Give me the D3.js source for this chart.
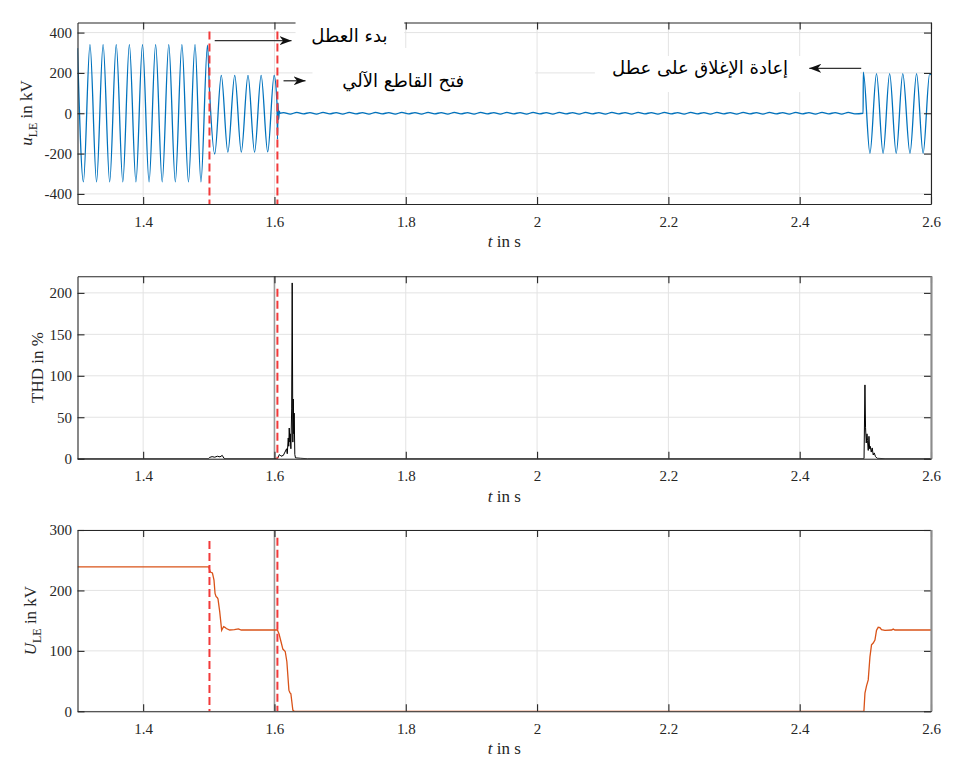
<!DOCTYPE html>
<html>
<head>
<meta charset="utf-8">
<script src="https://cdn.jsdelivr.net/npm/d3@7"></script>
<style>
  body { margin: 0; background: #fff; }
  text { font-family: "Liberation Serif", "Times New Roman", serif; fill: #262626; }
  .ar { font-family: "DejaVu Sans", sans-serif; fill: #000; }
</style>
</head>
<body>
<svg id="chart" width="961" height="762"></svg>
<script>
// ticks
const xTicks = [1.4, 1.6, 1.8, 2.0, 2.2, 2.4, 2.6];
const uTicks = [-400, -200, 0, 200, 400];
const thdTicks = [0, 50, 100, 150, 200];
const uleTicks = [0, 100, 200, 300];

// events (s)
const faultT = 1.501;
const breakerT = 1.6045;

// u_LE waveform, extrema (kV)
const uPreT = [1.300, 1.309, 1.319, 1.329, 1.339, 1.349, 1.359, 1.369, 1.379, 1.389,
  1.399, 1.409, 1.419, 1.429, 1.439, 1.449, 1.459, 1.469, 1.479, 1.488, 1.498,
  1.5012, 1.509, 1.519, 1.529, 1.5395, 1.5495, 1.5597, 1.5697, 1.5797, 1.5897, 1.5995,
  1.6038, 1.6046, 1.6055, 1.6064, 1.6074, 1.6085];
const uPreV = [323, -340, 340, -340, 340, -340, 340, -340, 340, -340,
  340, -340, 340, -340, 340, -340, 340, -340, 340, -340, 338,
  105, -202, 188, -193, 188, -193, 188, -193, 188, -192, 188,
  52, -130, 50, -30, 10, 0];
// residual ripple after breaker opening, one value every 10 ms from 1.614 s
const rippleStart = 1.614;
const rippleStep = 0.01;
const rippleV = [3, -4, 4, -3, 3, -4, 4, -3, 3, -4, 4, -3, 3, -4, 4, -3, 3, -4, 4, -3, 3, -4,
  4, -3, 3, -4, 4, -3, 3, -4, 4, -3, 3, -4, 4, -3, 3, -4, 4, -3, 3, -4, 4, -3,
  3, -4, 4, -3, 3, -4, 4, -3, 3, -4, 4, -3, 3, -4, 4, -3, 3, -4, 4, -3, 3, -4,
  4, -3, 3, -4, 4, -3, 3, -4, 4, -3, 3, -4, 4, -3, 3, -4, 4, -3, 3, -4, 4, -3];
const uReT = [2.4966, 2.4969, 2.507, 2.517, 2.527, 2.537, 2.547, 2.557, 2.568, 2.578, 2.588, 2.598, 2.6];
const uReV = [0, 204, -199, 196, -199, 196, -199, 196, -199, 196, -199, 196, 190];

// THD (%)
const thdT = [1.3, 1.4995, 1.501, 1.505, 1.509, 1.513, 1.517, 1.5205, 1.523, 1.526,
  1.6045, 1.6075, 1.61, 1.6135, 1.616, 1.6185, 1.6195, 1.621, 1.6218, 1.6225, 1.6235, 1.624,
  1.625, 1.6262, 1.627, 1.628, 1.6286, 1.6295, 1.630, 1.631, 1.632, 1.64, 1.65,
  2.498, 2.4994, 2.5003, 2.5014, 2.5025, 2.5033, 2.5044, 2.5055, 2.5065, 2.5074, 2.509,
  2.5104, 2.512, 2.5135, 2.5155, 2.518, 2.53, 2.6];
const thdV = [0, 0, 1.5, 2.5, 1.8, 3, 2.2, 4, 0.5, 0,
  0, 5, 3, 4, 8, 12, 6, 25, 15, 37, 20, 30,
  12, 60, 212, 20, 72, 30, 55, 5, 1, 0.5, 0,
  0, 89, 38, 19, 30, 22, 10, 27, 12, 15, 8,
  13, 4.5, 7, 2.5, 0.5, 0, 0];

// U_LE rms (kV)
const uleT = [1.3, 1.5, 1.5015, 1.503, 1.5055, 1.5079, 1.5095, 1.511, 1.513, 1.514,
  1.5166, 1.5196, 1.521, 1.5226, 1.5245, 1.5267, 1.5318, 1.539, 1.545, 1.5495,
  1.6045, 1.607, 1.6093, 1.6128, 1.6164, 1.6189, 1.622, 1.6235, 1.625, 1.628, 1.63,
  2.4978, 2.4994, 2.5018, 2.5044, 2.507, 2.5094, 2.512, 2.5146, 2.517, 2.5196,
  2.5222, 2.5246, 2.5298, 2.54, 2.5424, 2.545, 2.6];
const uleV = [239, 239, 233, 230, 229, 217, 195, 190, 188, 186,
  165, 134, 137, 140, 139, 137, 134.5, 135, 136.5, 134.5,
  134.5, 128, 118, 103, 99, 82, 35, 31, 29, 2, 0,
  0, 30, 42, 52, 90, 110, 113, 118, 134, 139,
  138.5, 135, 134, 134.5, 136, 134.5, 134.5];

const notes = ['بدء العطل', 'فتح القاطع الآلي', 'إعادة الإغلاق على عطل'];

// ---- build series
const zip = (ts, vs) => ts.map((t, i) => ({ t: t, v: vs[i] }));
const uData = zip(uPreT, uPreV)
  .concat(rippleV.map((v, i) => ({ t: rippleStart + i * rippleStep, v: v })))
  .concat(zip(uReT, uReV));
const thdData = zip(thdT, thdV);
const uleData = zip(uleT, uleV);

const svg = d3.select('#chart');
const defs = svg.append('defs');

const x = d3.scaleLinear().domain([1.3, 2.6]).range([77.5, 931]);
const y1 = d3.scaleLinear().domain([-450, 450]).range([204, 22.5]);
const y2 = d3.scaleLinear().domain([0, 220]).range([458.7, 276.3]);
const y3 = d3.scaleLinear().domain([0, 300]).range([711.3, 530]);

const serif = '"Liberation Serif", "Times New Roman", serif';
const axisColor = '#262626';
const gridColor = '#e3e3e3';

function panel(id, y, yTicks) {
  const [bottom, top] = y.range();
  const [left, right] = x.range();
  const g = svg.append('g');

  defs.append('clipPath').attr('id', id)
    .append('rect').attr('x', left).attr('y', top)
    .attr('width', right - left).attr('height', bottom - top);

  // grid
  g.append('g').selectAll('line').data(xTicks).enter().append('line')
    .attr('x1', d => x(d)).attr('x2', d => x(d))
    .attr('y1', top).attr('y2', bottom)
    .attr('stroke', gridColor);
  g.append('g').selectAll('line').data(yTicks).enter().append('line')
    .attr('x1', left).attr('x2', right)
    .attr('y1', d => y(d)).attr('y2', d => y(d))
    .attr('stroke', gridColor);

  const plot = g.append('g').attr('clip-path', `url(#${id})`);
  const axes = g.append('g');

  const styleAxis = sel => {
    sel.attr('font-family', serif).attr('font-size', 15).attr('color', axisColor);
    sel.selectAll('text').style('font-family', serif).attr('fill', axisColor);
    sel.selectAll('path, line').attr('stroke-width', 1.1);
  };
  axes.append('g').attr('transform', `translate(0,${bottom})`)
    .call(d3.axisBottom(x).tickValues(xTicks).tickFormat(d3.format('~g'))
      .tickSize(-7).tickSizeOuter(0).tickPadding(12))
    .call(styleAxis);
  axes.append('g').attr('transform', `translate(0,${top})`)
    .call(d3.axisTop(x).tickValues(xTicks).tickFormat('')
      .tickSize(-7).tickSizeOuter(0))
    .call(styleAxis);
  axes.append('g').attr('transform', `translate(${left},0)`)
    .call(d3.axisLeft(y).tickValues(yTicks).tickFormat(d => String(d))
      .tickSize(-7).tickSizeOuter(0).tickPadding(5.5))
    .call(styleAxis);
  axes.append('g').attr('transform', `translate(${right},0)`)
    .call(d3.axisRight(y).tickValues(yTicks).tickFormat('')
      .tickSize(-7).tickSizeOuter(0))
    .call(styleAxis);

  // x label
  const xl = g.append('text')
    .attr('x', (left + right) / 2).attr('y', bottom + 43)
    .attr('text-anchor', 'middle').attr('font-size', 17);
  xl.append('tspan').attr('font-style', 'italic').text('t');
  xl.append('tspan').text(' in s');

  return { g: g, plot: plot, axes: axes, top: top, bottom: bottom };
}

function redLine(p, y, t, vTop) {
  p.plot.append('line')
    .attr('x1', x(t)).attr('x2', x(t))
    .attr('y1', y(vTop)).attr('y2', p.bottom)
    .attr('stroke', '#f23a3a').attr('stroke-width', 2)
    .attr('stroke-dasharray', '8,4');
}

function yLabel(p, cx, cy, parts) {
  const t = p.g.append('text')
    .attr('transform', `translate(${cx},${cy}) rotate(-90)`)
    .attr('text-anchor', 'middle').attr('font-size', 17);
  parts.forEach(s => {
    const ts = t.append('tspan').text(s.text);
    if (s.italic) ts.attr('font-style', 'italic');
    if (s.sub) ts.attr('font-size', 12).attr('dy', 5);
    if (s.unsub) ts.attr('dy', -5);
  });
}

function marker1p6(p) {
  p.plot.append('line')
    .attr('x1', x(1.6)).attr('x2', x(1.6)).attr('y1', p.top).attr('y2', p.bottom)
    .attr('stroke', '#9a9a9a').attr('stroke-width', 1.6);
}

function greyRight(p) {
  p.axes.append('line')
    .attr('x1', x.range()[1] + 0.5).attr('x2', x.range()[1] + 0.5)
    .attr('y1', p.top).attr('y2', p.bottom)
    .attr('stroke', '#8c8c8c').attr('stroke-width', 2);
}

// ---- panel 1 : u_LE
const p1 = panel('c1', y1, uTicks);
p1.plot.append('path').datum(uData)
  .attr('fill', 'none').attr('stroke', '#0072bd').attr('stroke-width', 1.3)
  .attr('d', d3.line().x(d => x(d.t)).y(d => y1(d.v)).curve(d3.curveMonotoneX));
redLine(p1, y1, faultT, 405);
redLine(p1, y1, breakerT, 405);
yLabel(p1, 32, 113, [{ text: 'u', italic: true }, { text: 'LE', sub: true }, { text: ' in kV', unsub: true }]);

// ---- panel 2 : THD
const p2 = panel('c2', y2, thdTicks);
marker1p6(p2);
p2.plot.append('path').datum(thdData)
  .attr('fill', 'none').attr('stroke', '#000').attr('stroke-width', 1)
  .attr('d', d3.line().x(d => x(d.t)).y(d => y2(d.v)));
redLine(p2, y2, breakerT, 205);
greyRight(p2);
yLabel(p2, 43, 367.5, [{ text: 'THD in %' }]);

// ---- panel 3 : U_LE
const p3 = panel('c3', y3, uleTicks);
marker1p6(p3);
p3.plot.append('path').datum(uleData)
  .attr('fill', 'none').attr('stroke', '#d95319').attr('stroke-width', 1.3)
  .attr('d', d3.line().x(d => x(d.t)).y(d => y3(d.v)));
redLine(p3, y3, faultT, 282);
redLine(p3, y3, breakerT, 287);
greyRight(p3);
yLabel(p3, 36, 620.6, [{ text: 'U', italic: true }, { text: 'LE', sub: true }, { text: ' in kV', unsub: true }]);

// ---- annotations on panel 1 (white text boxes + arrows)
defs.append('marker').attr('id', 'ah')
  .attr('viewBox', '0 0 12 9').attr('refX', 12).attr('refY', 4.5)
  .attr('markerWidth', 12).attr('markerHeight', 9)
  .attr('markerUnits', 'userSpaceOnUse').attr('orient', 'auto')
  .append('path').attr('d', 'M0,0 L12,4.5 L0,9 L3.5,4.5 Z').attr('fill', '#111');

const ann = svg.append('g');
// boxes: [t0, t1, vTop, vBottom]
[[1.6321, 1.7977, 502, 324], [1.6579, 1.9968, 324, 16], [2.088, 2.4922, 284, 105]].forEach(b => {
  ann.append('rect')
    .attr('x', x(b[0])).attr('y', y1(b[2]))
    .attr('width', x(b[1]) - x(b[0])).attr('height', y1(b[3]) - y1(b[2]))
    .attr('fill', '#fff');
});
// arrows: [tFrom, tTo, v]
[[1.509, 1.626, 360], [1.6138, 1.6473, 161], [2.4937, 2.4146, 223]].forEach(a => {
  ann.append('line')
    .attr('x1', x(a[0])).attr('x2', x(a[1]))
    .attr('y1', y1(a[2])).attr('y2', y1(a[2]))
    .attr('stroke', '#333').attr('stroke-width', 1.3)
    .attr('marker-end', 'url(#ah)');
});
// labels: [t centre, v baseline]
[[1.7141, 351], [1.7962, 128], [2.2483, 197]].forEach((p, i) => {
  ann.append('text').attr('class', 'ar')
    .attr('x', x(p[0])).attr('y', y1(p[1]))
    .attr('text-anchor', 'middle').attr('font-size', 18)
    .text(notes[i]);
});
</script>
</body>
</html>
